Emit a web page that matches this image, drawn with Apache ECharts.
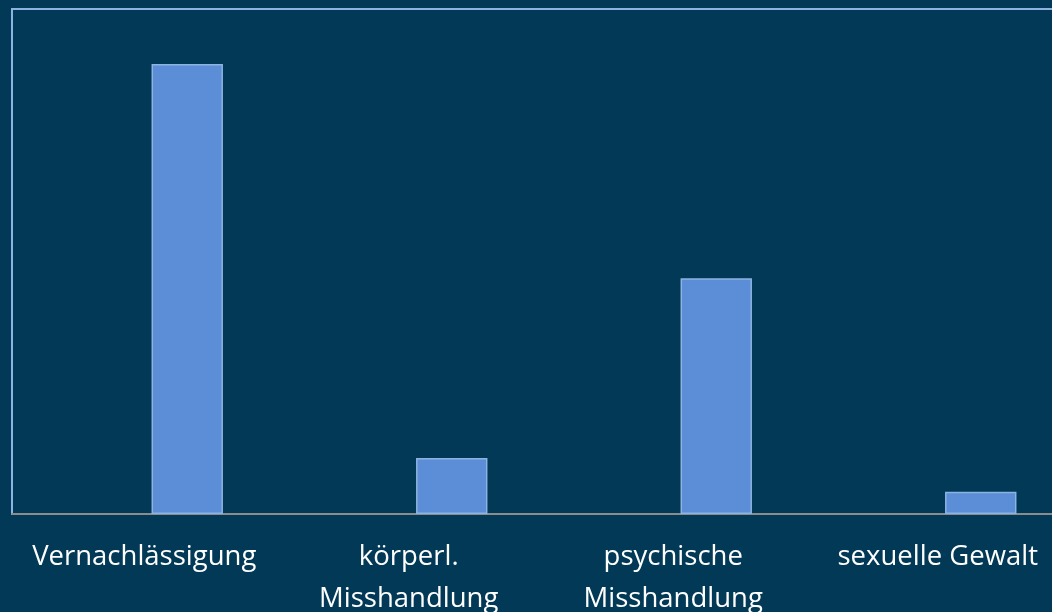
<!DOCTYPE html>
<html>
<head>
<meta charset="utf-8">
<script src="https://cdn.jsdelivr.net/npm/echarts@6/dist/echarts.min.js"></script>
<style>
  html, body { margin: 0; padding: 0; background: #013957; }
  #chart { width: 1052px; height: 612px; }
</style>
</head>
<body>
<div id="chart"></div>
<script>
// Forms of child maltreatment (relative share)
const categories = ['Vernachlässigung', 'körperl.\nMisshandlung', 'psychische\nMisshandlung', 'sexuelle Gewalt'];
const values = [89.1, 11.1, 46.7, 4.4];

const FONT = '"Open Sans", "Liberation Sans", sans-serif';

const chart = echarts.init(document.getElementById('chart'));
chart.setOption({
  backgroundColor: '#013957',
  animation: false,
  grid: [
    // plot frame, baseline and category labels
    { left: 12, top: 9, right: -18, bottom: 98, outerBoundsMode: 'none', containLabel: false,
      show: true, borderColor: '#8db3e2', borderWidth: 2, backgroundColor: 'transparent' },
    // bars
    { left: 55, top: 9, right: -61, bottom: 98, outerBoundsMode: 'none', containLabel: false }
  ],
  xAxis: [
    {
      gridIndex: 0, type: 'category', data: categories,
      axisLine: { show: true, lineStyle: { color: '#8c8c8c', width: 2 } },
      axisTick: { show: false },
      axisLabel: {
        interval: 0, margin: 22, color: '#ffffff',
        fontFamily: FONT, fontSize: 27.5, lineHeight: 42
      }
    },
    {
      gridIndex: 1, type: 'category', data: categories,
      axisLine: { show: false }, axisTick: { show: false }, axisLabel: { show: false }
    }
  ],
  yAxis: [
    { gridIndex: 0, type: 'value', show: false, min: 0, max: 100 },
    { gridIndex: 1, type: 'value', show: false, min: 0, max: 100 }
  ],
  series: [{
    type: 'bar',
    xAxisIndex: 1, yAxisIndex: 1,
    data: values,
    barWidth: '27%',
    itemStyle: { color: '#5b8ed6', borderColor: '#8db3e2', borderWidth: 1.5 }
  }]
});
</script>
</body>
</html>
